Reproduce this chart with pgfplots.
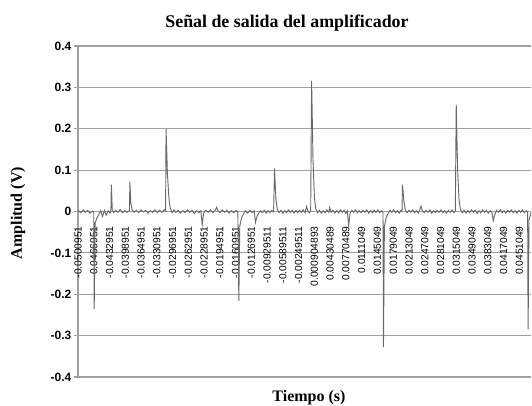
\documentclass[border=0pt]{standalone}
\usepackage{fontspec}
\setmainfont{Liberation Serif}
\newfontfamily\arial{Liberation Sans}
\usepackage{pgfplots}
\pgfplotsset{compat=1.18}
\usepackage{pgfplotstable}
\definecolor{gridgray}{RGB}{160,160,160}
\definecolor{sig}{RGB}{105,105,105}

% amplifier output, volts vs seconds (read off the scope export)
\pgfplotstableread{
t v
-0.0501 0.000
-0.0500 0.002
-0.0495 -0.003
-0.0490 0.004
-0.0485 -0.002
-0.0480 0.003
-0.0475 -0.004
-0.0470 0.001
-0.0467 -0.002
-0.0466 -0.236
-0.0464 -0.028
-0.0460 -0.015
-0.0456 -0.008
-0.0452 0.002
-0.0448 -0.012
-0.0444 0.003
-0.0440 -0.009
-0.0436 0.002
-0.0432 -0.004
-0.0430 0.001
-0.0429 0.065
-0.0427 0.004
-0.0424 -0.003
-0.0420 0.003
-0.0415 -0.002
-0.0410 0.005
-0.0405 -0.003
-0.0400 0.002
-0.0395 -0.002
-0.0390 0.002
-0.0389 0.072
-0.0387 0.020
-0.0384 0.004
-0.0380 -0.002
-0.0375 0.003
-0.0370 -0.003
-0.0365 0.004
-0.0360 -0.001
-0.0355 0.003
-0.0350 -0.004
-0.0345 0.002
-0.0340 -0.002
-0.0335 0.004
-0.0330 -0.003
-0.0325 0.003
-0.0320 -0.002
-0.0315 0.004
-0.0312 0.001
-0.0311 0.200
-0.0308 0.090
-0.0305 0.035
-0.0302 0.008
-0.0298 -0.003
-0.0294 0.004
-0.0290 -0.002
-0.0285 0.003
-0.0280 -0.004
-0.0275 0.002
-0.0270 -0.003
-0.0265 0.004
-0.0260 -0.002
-0.0255 0.003
-0.0250 -0.005
-0.0245 0.002
-0.0240 -0.003
-0.0236 0.002
-0.0233 -0.032
-0.0230 -0.004
-0.0225 0.003
-0.0220 -0.002
-0.0215 0.004
-0.0210 -0.003
-0.0205 0.003
-0.0202 0.010
-0.0199 0.002
-0.0195 -0.003
-0.0190 0.004
-0.0185 -0.002
-0.0180 0.003
-0.0175 -0.004
-0.0170 0.002
-0.0165 -0.003
-0.0160 0.003
-0.0156 -0.002
-0.0154 -0.216
-0.0152 -0.035
-0.0148 -0.015
-0.0144 -0.006
-0.0140 0.002
-0.0135 -0.004
-0.0130 0.003
-0.0125 -0.003
-0.0121 0.002
-0.0118 -0.026
-0.0115 -0.012
-0.0111 -0.004
-0.0107 0.002
-0.0103 -0.003
-0.0099 0.003
-0.0095 -0.004
-0.0091 0.002
-0.0087 -0.003
-0.0083 0.003
-0.0079 -0.001
-0.0077 0.104
-0.0074 0.030
-0.0071 0.005
-0.0067 -0.003
-0.0063 0.003
-0.0059 -0.004
-0.0055 0.002
-0.0051 -0.003
-0.0047 0.004
-0.0043 -0.002
-0.0039 0.003
-0.0035 -0.004
-0.0031 0.002
-0.0027 -0.003
-0.0023 0.003
-0.0019 -0.002
-0.0015 0.004
-0.0011 -0.003
-0.0008 0.012
-0.0005 0.001
-0.0002 -0.003
0.0001 0.002
0.0003 0.316
0.0006 0.125
0.0009 0.035
0.0012 0.006
0.0016 -0.003
0.0020 0.003
0.0024 -0.004
0.0028 0.002
0.0032 -0.003
0.0036 0.004
0.0040 -0.002
0.0042 0.010
0.0045 -0.002
0.0049 0.003
0.0053 -0.004
0.0057 0.002
0.0061 -0.003
0.0065 0.004
0.0069 -0.002
0.0073 0.003
0.0077 -0.005
0.0080 0.002
0.0083 -0.034
0.0086 -0.004
0.0090 0.003
0.0094 -0.002
0.0098 0.004
0.0102 -0.003
0.0106 0.002
0.0110 -0.003
0.0114 0.003
0.0118 -0.002
0.0122 0.004
0.0126 -0.004
0.0130 0.002
0.0134 -0.003
0.0138 0.003
0.0142 -0.002
0.0146 0.004
0.0150 -0.003
0.0154 0.002
0.0157 -0.002
0.0158 -0.328
0.0160 -0.036
0.0164 -0.014
0.0168 -0.005
0.0172 0.003
0.0176 -0.002
0.0180 0.004
0.0184 -0.003
0.0188 0.002
0.0192 -0.004
0.0196 0.003
0.0198 0.000
0.0199 0.065
0.0202 0.025
0.0205 0.004
0.0209 -0.003
0.0213 0.003
0.0217 -0.002
0.0221 0.004
0.0225 -0.003
0.0229 0.002
0.0233 -0.004
0.0236 0.003
0.0239 0.013
0.0242 0.002
0.0246 -0.003
0.0250 0.003
0.0254 -0.002
0.0258 0.004
0.0262 -0.004
0.0266 0.002
0.0270 -0.003
0.0274 0.003
0.0278 -0.002
0.0282 0.004
0.0286 -0.003
0.0290 0.002
0.0294 -0.004
0.0298 0.003
0.0302 -0.002
0.0306 0.004
0.0310 -0.003
0.0313 0.001
0.0315 0.258
0.0318 0.100
0.0321 0.030
0.0324 0.005
0.0328 -0.003
0.0332 0.003
0.0336 -0.004
0.0340 0.002
0.0344 -0.003
0.0348 0.004
0.0352 -0.002
0.0356 0.003
0.0360 -0.005
0.0364 0.002
0.0368 -0.003
0.0372 0.004
0.0376 -0.002
0.0380 0.003
0.0384 -0.004
0.0388 0.002
0.0392 -0.003
0.0395 -0.022
0.0398 -0.008
0.0402 0.003
0.0406 -0.002
0.0410 0.004
0.0414 -0.003
0.0418 0.002
0.0422 -0.004
0.0426 0.003
0.0430 -0.002
0.0434 0.004
0.0438 -0.003
0.0442 0.002
0.0446 -0.004
0.0450 0.003
0.0454 -0.002
0.0458 0.004
0.0462 -0.003
0.0466 0.002
0.0469 -0.002
0.0470 -0.285
0.0472 -0.020
0.0476 -0.004
0.0480 0.002
}\signal

\begin{document}
\begin{tikzpicture}
\useasboundingbox (-58.5pt,-21.75pt) rectangle (340.5pt,282.75pt);
\begin{axis}[
    at={(0,0)}, anchor=south west,
    scale only axis,
    width=340pt, height=248.25pt,
    xmin=-0.0500951, xmax=0.0477,
    ymin=-0.4, ymax=0.4,
    axis x line=middle, axis y line=left,
    axis line style={gridgray, line width=0.8pt, -},
    ymajorgrids, grid style={gridgray, line width=0.8pt},
    hide obscured x ticks=false, hide obscured y ticks=false,
    scaled x ticks=false,
    ytick={-0.4,-0.3,-0.2,-0.1,0,0.1,0.2,0.3,0.4},
    xtick={-0.0500951,-0.0466951,-0.0432951,-0.0398951,-0.0364951,-0.0330951,
           -0.0296951,-0.0262951,-0.0228951,-0.0194951,-0.0160951,-0.0126951,
           -0.00929511,-0.00589511,-0.00249511,0.000904893,0.00430489,0.00770489,
           0.0111049,0.0145049,0.0179049,0.0213049,0.0247049,0.0281049,
           0.0315049,0.0349049,0.0383049,0.0417049,0.0451049},
    xticklabels={-0.0500951,-0.0466951,-0.0432951,-0.0398951,-0.0364951,-0.0330951,
           -0.0296951,-0.0262951,-0.0228951,-0.0194951,-0.0160951,-0.0126951,
           -0.00929511,-0.00589511,-0.00249511,0.000904893,0.00430489,0.00770489,
           0.0111049,0.0145049,0.0179049,0.0213049,0.0247049,0.0281049,
           0.0315049,0.0349049,0.0383049,0.0417049,0.0451049},
    x tick label style={yshift=-8pt, rotate=90, anchor=east, inner sep=0pt,
        font=\arial\fontsize{7.7}{8}\selectfont},
    xtick style={draw=none},
    tick align=outside, major tick length=3pt,
    ytick style={gridgray, line width=0.8pt},
    y tick label style={font=\arial\bfseries\fontsize{9}{10}\selectfont, xshift=1.5pt},
    /pgf/number format/assume math mode=true,
    /pgf/number format/fixed,
]
\addplot[sig, line width=0.7pt] table[x=t, y=v] {\signal};
\end{axis}
\node[font=\bfseries\fontsize{13.4}{16}\selectfont] at (156.75pt,265.5pt) {Señal de salida del amplificador};
\node[font=\bfseries\fontsize{12}{14}\selectfont, rotate=90] at (-45pt,123pt) {Amplitud (V)};
\node[font=\bfseries\fontsize{12}{14}\selectfont] at (173.25pt,-15.5pt) {Tiempo (s)};
\end{tikzpicture}
\end{document}
